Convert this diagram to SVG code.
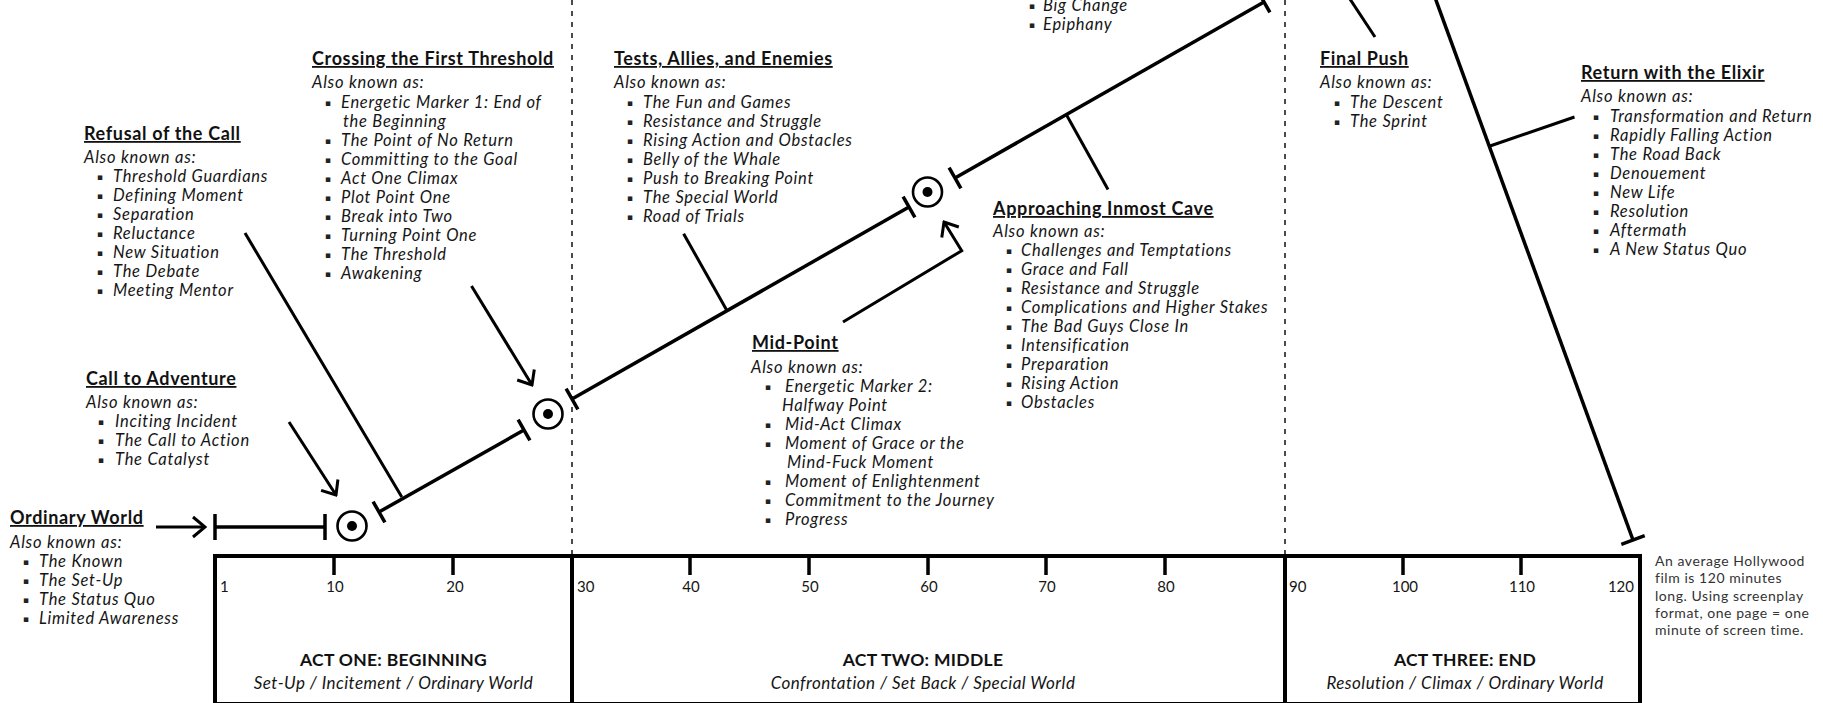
<svg xmlns="http://www.w3.org/2000/svg" width="1823" height="703" viewBox="0 0 1823 703">
<style>
text{font-family:Lato,"Liberation Sans","DejaVu Sans",sans-serif;fill:#151515}
.t{font-weight:700;font-size:18px;letter-spacing:0.65px;text-decoration:underline;fill:#111}
.a{font-style:italic;font-size:16.5px;letter-spacing:0.75px}
.b{font-family:"DejaVu Sans",sans-serif;font-size:9px;text-anchor:middle;fill:#222}
.n{font-size:15px;text-anchor:middle}
.act{font-weight:700;font-size:17.5px;letter-spacing:0.3px;text-anchor:middle;fill:#111}
.sub{font-style:italic;font-size:17px;letter-spacing:0.45px;text-anchor:middle}
.note{font-size:14px;letter-spacing:0.55px;fill:#333}
.ln{stroke:#000;stroke-width:3.5;fill:none}
.cn{stroke:#000;stroke-width:3;fill:none}
.dash{stroke:#000;stroke-width:1.4;stroke-dasharray:5 6;fill:none}
.box{stroke:#000;stroke-width:4;fill:none}
.pp{stroke:#000;stroke-width:2.6;fill:#fff}
</style>
<defs>
<marker id="chev" markerUnits="userSpaceOnUse" viewBox="-14 -12 16 24" markerWidth="16" markerHeight="24" refX="0" refY="0" orient="auto">
<path d="M-12,-10 L0,0 L-12,10" fill="none" stroke="#000" stroke-width="3"/>
</marker>
</defs>
<rect width="1823" height="703" fill="#fff"/>

<g id="timeline">
<line class="dash" x1="572" y1="0" x2="572" y2="556"/>
<line class="dash" x1="1285" y1="0" x2="1285" y2="556"/>
<rect class="box" x="215" y="556" width="1425" height="148"/>
<line class="box" x1="572" y1="556" x2="572" y2="704"/>
<line class="box" x1="1285" y1="556" x2="1285" y2="704"/>
<g stroke="#000" stroke-width="3.5">
<line x1="334" y1="556" x2="334" y2="575"/>
<line x1="453" y1="556" x2="453" y2="575"/>
<line x1="690" y1="556" x2="690" y2="575"/>
<line x1="809" y1="556" x2="809" y2="575"/>
<line x1="928" y1="556" x2="928" y2="575"/>
<line x1="1046" y1="556" x2="1046" y2="575"/>
<line x1="1165" y1="556" x2="1165" y2="575"/>
<line x1="1403" y1="556" x2="1403" y2="575"/>
<line x1="1521" y1="556" x2="1521" y2="575"/>
</g>
<text class="n" x="220" y="592" style="text-anchor:start">1</text>
<text class="n" x="335" y="592">10</text>
<text class="n" x="455" y="592">20</text>
<text class="n" x="577" y="592" style="text-anchor:start">30</text>
<text class="n" x="691" y="592">40</text>
<text class="n" x="810" y="592">50</text>
<text class="n" x="929" y="592">60</text>
<text class="n" x="1047" y="592">70</text>
<text class="n" x="1166" y="592">80</text>
<text class="n" x="1289" y="592" style="text-anchor:start">90</text>
<text class="n" x="1405" y="592">100</text>
<text class="n" x="1522" y="592">110</text>
<text class="n" x="1634" y="592" style="text-anchor:end">120</text>
<text class="act" x="393.5" y="666">ACT ONE: BEGINNING</text>
<text class="sub" x="393.5" y="689">Set-Up / Incitement / Ordinary World</text>
<text class="act" x="923" y="666">ACT TWO: MIDDLE</text>
<text class="sub" x="923" y="689">Confrontation / Set Back / Special World</text>
<text class="act" x="1465" y="666">ACT THREE: END</text>
<text class="sub" x="1465" y="689">Resolution / Climax / Ordinary World</text>
</g>

<g id="connectors">
<line class="ln" x1="215" y1="527" x2="325" y2="527"/>
<line class="ln" x1="215" y1="514" x2="215" y2="540"/>
<line class="ln" x1="325" y1="514" x2="325" y2="540"/>
<line class="ln" x1="379" y1="512" x2="524" y2="430"/>
<line class="ln" x1="373.1" y1="501.6" x2="384.9" y2="522.4"/>
<line class="ln" x1="518.1" y1="419.6" x2="529.9" y2="440.4"/>
<line class="ln" x1="572" y1="399" x2="909" y2="207"/>
<line class="ln" x1="566.1" y1="388.6" x2="577.9" y2="409.4"/>
<line class="ln" x1="903.1" y1="196.6" x2="914.9" y2="217.4"/>
<line class="ln" x1="955" y1="178" x2="1264" y2="2"/>
<line class="ln" x1="949.1" y1="167.6" x2="960.9" y2="188.4"/>
<line class="ln" x1="1258.1" y1="-8.4" x2="1269.9" y2="12.4"/>
<line class="ln" x1="1433" y1="-8" x2="1633" y2="540"/>
<line class="ln" x1="1621.3" y1="544.3" x2="1644.7" y2="535.7"/>
<line class="cn" x1="156" y1="527" x2="205" y2="527" marker-end="url(#chev)"/>
<line class="cn" x1="289" y1="422" x2="336" y2="495" marker-end="url(#chev)"/>
<line class="cn" x1="471.5" y1="286" x2="532" y2="385" marker-end="url(#chev)"/>
<polyline class="cn" points="843,322 961.7,250.7 944,222" marker-end="url(#chev)"/>
<line class="cn" x1="245" y1="233" x2="401.8" y2="497"/>
<line class="cn" x1="683.6" y1="233.7" x2="726.6" y2="310"/>
<line class="cn" x1="1066" y1="114" x2="1108" y2="189.5"/>
<line class="cn" x1="1344" y1="-10" x2="1375" y2="37"/>
<line class="cn" x1="1490" y1="146" x2="1574.5" y2="117"/>
</g>

<g id="plot-points">
<circle class="pp" cx="352" cy="526" r="14.5"/><circle cx="352" cy="526" r="5" fill="#000"/>
<circle class="pp" cx="548" cy="414" r="14.5"/><circle cx="548" cy="414" r="5" fill="#000"/>
<circle class="pp" cx="927.5" cy="192" r="14.5"/><circle cx="927.5" cy="192" r="5" fill="#000"/>
</g>

<g id="ordinary-world" transform="translate(0,1)">
<text class="t" x="10" y="523">Ordinary World</text>
<text class="a" x="10" y="547">Also known as:</text>
<text class="b" x="26" y="564">▪</text><text class="a" x="39" y="566">The Known</text>
<text class="b" x="26" y="583">▪</text><text class="a" x="39" y="585">The Set-Up</text>
<text class="b" x="26" y="602">▪</text><text class="a" x="39" y="604">The Status Quo</text>
<text class="b" x="26" y="621">▪</text><text class="a" x="39" y="623">Limited Awareness</text>
</g>

<g id="call-to-adventure" transform="translate(0,1)">
<text class="t" x="86" y="384">Call to Adventure</text>
<text class="a" x="86" y="407">Also known as:</text>
<text class="b" x="101" y="424">▪</text><text class="a" x="115" y="426">Inciting Incident</text>
<text class="b" x="101" y="443">▪</text><text class="a" x="115" y="445">The Call to Action</text>
<text class="b" x="101" y="462">▪</text><text class="a" x="115" y="464">The Catalyst</text>
</g>

<g id="refusal-of-the-call" transform="translate(0,1)">
<text class="t" x="84" y="139">Refusal of the Call</text>
<text class="a" x="84" y="162">Also known as:</text>
<text class="b" x="100" y="179">▪</text><text class="a" x="113" y="181">Threshold Guardians</text>
<text class="b" x="100" y="198">▪</text><text class="a" x="113" y="200">Defining Moment</text>
<text class="b" x="100" y="217">▪</text><text class="a" x="113" y="219">Separation</text>
<text class="b" x="100" y="236">▪</text><text class="a" x="113" y="238">Reluctance</text>
<text class="b" x="100" y="255">▪</text><text class="a" x="113" y="257">New Situation</text>
<text class="b" x="100" y="274">▪</text><text class="a" x="113" y="276">The Debate</text>
<text class="b" x="100" y="293">▪</text><text class="a" x="113" y="295">Meeting Mentor</text>
</g>

<g id="crossing-the-first-threshold" transform="translate(0,1)">
<text class="t" x="312" y="64">Crossing the First Threshold</text>
<text class="a" x="312" y="87">Also known as:</text>
<text class="b" x="328" y="105">▪</text><text class="a" x="341" y="107">Energetic Marker 1: End of</text>
<text class="a" x="343" y="126">the Beginning</text>
<text class="b" x="328" y="143">▪</text><text class="a" x="341" y="145">The Point of No Return</text>
<text class="b" x="328" y="162">▪</text><text class="a" x="341" y="164">Committing to the Goal</text>
<text class="b" x="328" y="181">▪</text><text class="a" x="341" y="183">Act One Climax</text>
<text class="b" x="328" y="200">▪</text><text class="a" x="341" y="202">Plot Point One</text>
<text class="b" x="328" y="219">▪</text><text class="a" x="341" y="221">Break into Two</text>
<text class="b" x="328" y="238">▪</text><text class="a" x="341" y="240">Turning Point One</text>
<text class="b" x="328" y="257">▪</text><text class="a" x="341" y="259">The Threshold</text>
<text class="b" x="328" y="276">▪</text><text class="a" x="341" y="278">Awakening</text>
</g>

<g id="tests-allies-enemies" transform="translate(0,1)">
<text class="t" x="614" y="64">Tests, Allies, and Enemies</text>
<text class="a" x="614" y="87">Also known as:</text>
<text class="b" x="630" y="105">▪</text><text class="a" x="643" y="107">The Fun and Games</text>
<text class="b" x="630" y="124">▪</text><text class="a" x="643" y="126">Resistance and Struggle</text>
<text class="b" x="630" y="143">▪</text><text class="a" x="643" y="145">Rising Action and Obstacles</text>
<text class="b" x="630" y="162">▪</text><text class="a" x="643" y="164">Belly of the Whale</text>
<text class="b" x="630" y="181">▪</text><text class="a" x="643" y="183">Push to Breaking Point</text>
<text class="b" x="630" y="200">▪</text><text class="a" x="643" y="202">The Special World</text>
<text class="b" x="630" y="219">▪</text><text class="a" x="643" y="221">Road of Trials</text>
</g>

<g id="mid-point" transform="translate(0,1)">
<text class="t" x="752" y="348">Mid-Point</text>
<text class="a" x="751" y="372">Also known as:</text>
<text class="b" x="768" y="389">▪</text><text class="a" x="785" y="391">Energetic Marker 2:</text>
<text class="a" x="782" y="410">Halfway Point</text>
<text class="b" x="768" y="427">▪</text><text class="a" x="785" y="429">Mid-Act Climax</text>
<text class="b" x="768" y="446">▪</text><text class="a" x="785" y="448">Moment of Grace or the</text>
<text class="a" x="787" y="467">Mind-Fuck Moment</text>
<text class="b" x="768" y="484">▪</text><text class="a" x="785" y="486">Moment of Enlightenment</text>
<text class="b" x="768" y="503">▪</text><text class="a" x="785" y="505">Commitment to the Journey</text>
<text class="b" x="768" y="522">▪</text><text class="a" x="785" y="524">Progress</text>
</g>

<g id="approaching-inmost-cave" transform="translate(0,1)">
<text class="t" x="993" y="214">Approaching Inmost Cave</text>
<text class="a" x="993" y="236">Also known as:</text>
<text class="b" x="1009" y="253">▪</text><text class="a" x="1021" y="255">Challenges and Temptations</text>
<text class="b" x="1009" y="272">▪</text><text class="a" x="1021" y="274">Grace and Fall</text>
<text class="b" x="1009" y="291">▪</text><text class="a" x="1021" y="293">Resistance and Struggle</text>
<text class="b" x="1009" y="310">▪</text><text class="a" x="1021" y="312">Complications and Higher Stakes</text>
<text class="b" x="1009" y="329">▪</text><text class="a" x="1021" y="331">The Bad Guys Close In</text>
<text class="b" x="1009" y="348">▪</text><text class="a" x="1021" y="350">Intensification</text>
<text class="b" x="1009" y="367">▪</text><text class="a" x="1021" y="369">Preparation</text>
<text class="b" x="1009" y="386">▪</text><text class="a" x="1021" y="388">Rising Action</text>
<text class="b" x="1009" y="405">▪</text><text class="a" x="1021" y="407">Obstacles</text>
</g>

<g id="peak">
<text class="b" x="1032" y="9">▪</text><text class="a" x="1043" y="11">Big Change</text>
<text class="b" x="1032" y="28">▪</text><text class="a" x="1043" y="30">Epiphany</text>
</g>

<g id="final-push" transform="translate(0,1)">
<text class="t" x="1320" y="64">Final Push</text>
<text class="a" x="1320" y="87">Also known as:</text>
<text class="b" x="1337" y="105">▪</text><text class="a" x="1350" y="107">The Descent</text>
<text class="b" x="1337" y="124">▪</text><text class="a" x="1350" y="126">The Sprint</text>
</g>

<g id="return-with-the-elixir" transform="translate(0,1)">
<text class="t" x="1581" y="78">Return with the Elixir</text>
<text class="a" x="1581" y="101">Also known as:</text>
<text class="b" x="1596" y="119">▪</text><text class="a" x="1610" y="121">Transformation and Return</text>
<text class="b" x="1596" y="138">▪</text><text class="a" x="1610" y="140">Rapidly Falling Action</text>
<text class="b" x="1596" y="157">▪</text><text class="a" x="1610" y="159">The Road Back</text>
<text class="b" x="1596" y="176">▪</text><text class="a" x="1610" y="178">Denouement</text>
<text class="b" x="1596" y="195">▪</text><text class="a" x="1610" y="197">New Life</text>
<text class="b" x="1596" y="214">▪</text><text class="a" x="1610" y="216">Resolution</text>
<text class="b" x="1596" y="233">▪</text><text class="a" x="1610" y="235">Aftermath</text>
<text class="b" x="1596" y="252">▪</text><text class="a" x="1610" y="254">A New Status Quo</text>
</g>

<g id="note">
<text class="note" x="1655" y="566">An average Hollywood</text>
<text class="note" x="1655" y="583.3">film is 120 minutes</text>
<text class="note" x="1655" y="600.6">long. Using screenplay</text>
<text class="note" x="1655" y="617.9">format, one page = one</text>
<text class="note" x="1655" y="635.2">minute of screen time.</text>
</g>
</svg>
